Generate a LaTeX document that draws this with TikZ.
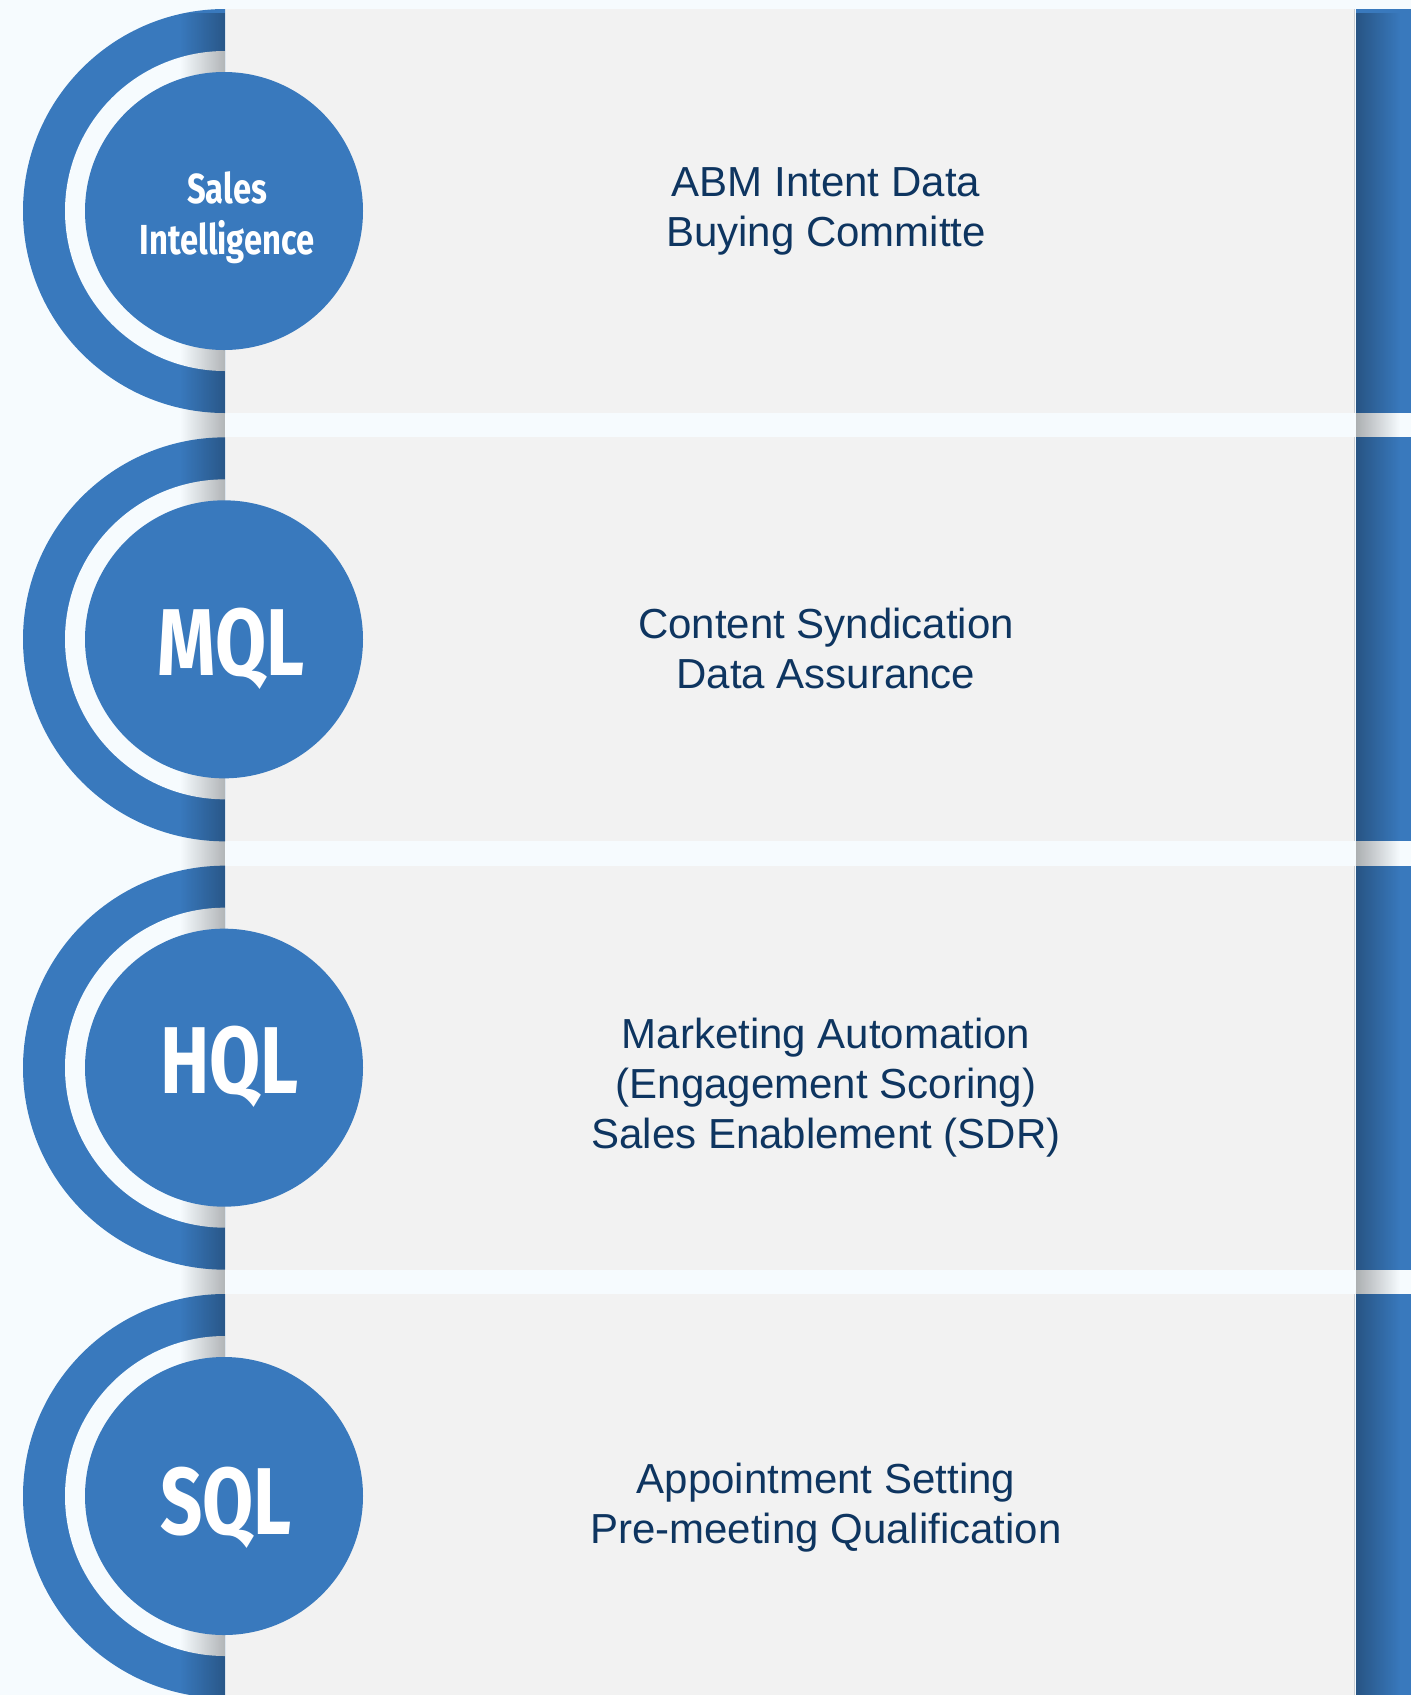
\documentclass[tikz,border=0pt]{standalone}
\usepackage{fontspec}
\setmainfont{Liberation Sans}
\newfontfamily\condfont[FakeStretch=0.78]{Fira Sans}
\usetikzlibrary{fadings}
\definecolor{bgc}{HTML}{F6FBFE}
\definecolor{panelc}{HTML}{F2F2F2}
\definecolor{bluec}{HTML}{3979BD}
\definecolor{navyc}{HTML}{0E3560}
\definecolor{edgec}{HTML}{C9CDD1}
\tikzset{
  panelbox/.style={fill=panelc},
  bluebar/.style={fill=bluec},
  disc/.style={circle, fill=bluec, minimum size=278pt, inner sep=0pt},
  desctext/.style={text=navyc, align=center, inner sep=0pt, font=\fontsize{42}{50}\selectfont},
  smalllabel/.style={text=white, align=center, inner sep=0pt, font=\condfont\bfseries\fontsize{42}{51}\selectfont},
  biglabel/.style={text=white, align=center, inner sep=0pt, font=\condfont\bfseries\fontsize{95}{100}\selectfont},
}
\begin{document}
\begin{tikzpicture}[x=1pt,y=-1pt]
\useasboundingbox (0,0) rectangle (1411,1695);
\fill[bgc] (0,0) rectangle (1411,1695);
\clip (0,0) rectangle (1411,1695);
% rows
\foreach \top in {9,437.33,865.67,1294}{
  \pgfmathsetmacro{\bot}{\top+404}
  \pgfmathsetmacro{\cy}{\top+202}
  \fill[panelbox] (225,\top) rectangle (1355,\bot);
  \draw[edgec, line width=1.5pt] (1354.5,\top) -- (1354.5,\bot);
  \fill[bluebar] (1356,\top) rectangle (1411,\bot);
  \begin{scope}
    \clip (0,\top) rectangle (225,\bot);
    \fill[bluec] (225,\cy) circle[radius=202pt];
    \fill[bgc] (225,\cy) circle[radius=160pt];
  \end{scope}
}
% shadows
\fill[black, fill opacity=0.28, path fading=west] (180,9) rectangle (225,1695);
\fill[black, fill opacity=0.30, path fading=east] (1356,9) rectangle (1400,1695);
% discs
\node[disc] (d1) at (224,211) {};
\node[disc] (d2) at (224,639.33) {};
\node[disc] (d3) at (224,1067.67) {};
\node[disc] (d4) at (224,1496) {};
% disc labels (anchor base = baseline of last line)
\node[smalllabel, anchor=base] (l1) at (227,254) {Sales\\Intelligence};
\node[biglabel, anchor=base] (l2) at (231,675) {MQL};
\node[biglabel, anchor=base] (l3) at (229.5,1093) {HQL};
\node[biglabel, anchor=base] (l4) at (226,1534) {SQL};
% descriptions
\node[desctext, anchor=base] (t1) at (826,246) {ABM Intent Data\\Buying Committe};
\node[desctext, anchor=base] (t2) at (826,688) {Content Syndication\\Data Assurance};
\node[desctext, anchor=base] (t3) at (826,1148) {Marketing Automation\\(Engagement Scoring)\\Sales Enablement (SDR)};
\node[desctext, anchor=base] (t4) at (826,1543) {Appointment Setting\\Pre-meeting Qualification};
\end{tikzpicture}
\end{document}
